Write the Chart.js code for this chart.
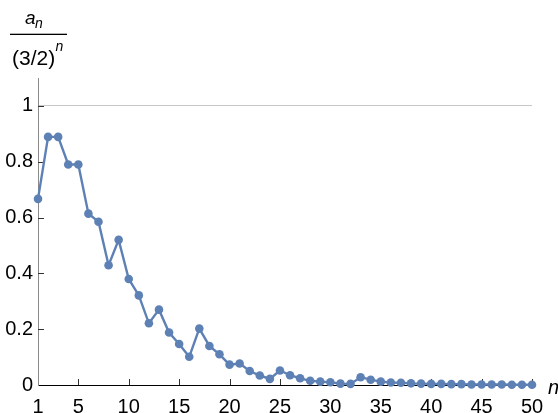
<!DOCTYPE html>
<html>
<head>
<meta charset="utf-8">
<script src="https://cdn.jsdelivr.net/npm/chart.js@4/dist/chart.umd.min.js"></script>
<style>
  html, body { margin: 0; padding: 0; background: #fff; }
  #wrap { width: 558px; height: 413px; position: relative; }
</style>
</head>
<body>
<div id="wrap"><canvas id="c" width="558" height="413"></canvas></div>
<script>
// n values and the ratio a_n / (3/2)^n
var nValues = [1,2,3,4,5,6,7,8,9,10,11,12,13,14,15,16,17,18,19,20,
               21,22,23,24,25,26,27,28,29,30,31,32,33,34,35,36,37,38,39,40,
               41,42,43,44,45,46,47,48,49,50];
var ratio = [0.667,0.889,0.889,0.790,0.790,0.614,0.585,0.429,0.520,0.380,
             0.321,0.221,0.270,0.188,0.147,0.101,0.202,0.140,0.110,0.073,
             0.077,0.050,0.034,0.022,0.052,0.035,0.024,0.015,0.012,0.010,
             0.005,0.004,0.028,0.019,0.012,0.009,0.008,0.006,0.005,0.004,
             0.004,0.003,0.003,0.002,0.002,0.002,0.002,0.001,0.001,0.001];
var xTicks = [1,5,10,15,20,25,30,35,40,45,50];
var yTicks = [0,0.2,0.4,0.6,0.8,1];

var FONT = '"Liberation Sans", Arial, sans-serif';
var blue = '#5E81B5';

var pts = [];
for (var i = 0; i < nValues.length; i++) pts.push({x: nValues[i], y: ratio[i]});

// little inward tick marks, like the original frame
var innerTicks = {
    id: 'innerTicks',
    beforeDatasetsDraw: function(chart){
        var ctx = chart.ctx, xs = chart.scales.x, ys = chart.scales.y;
        var b = chart.chartArea;
        ctx.save();
        ctx.strokeStyle = '#333';
        ctx.lineWidth = 1;
        ctx.beginPath();
        xTicks.forEach(function(v){
            if (v == 1) return;
            var px = Math.round(xs.getPixelForValue(v)) + 0.5;
            ctx.moveTo(px, b.bottom); ctx.lineTo(px, b.bottom - 6);
        });
        yTicks.forEach(function(v){
            if (v == 0) return;
            var py = Math.round(ys.getPixelForValue(v)) + 0.5;
            ctx.moveTo(b.left, py); ctx.lineTo(b.left + 6, py);
        });
        ctx.stroke();
        ctx.restore();
    },
    afterDraw: function(chart){
        var ctx = chart.ctx;
        ctx.save();
        ctx.fillStyle = '#000';
        ctx.textBaseline = 'alphabetic';
        ctx.textAlign = 'left';
        // axis label  a_n / (3/2)^n
        ctx.font = 'italic 19px ' + FONT;
        ctx.fillText('a', 25, 24.3);
        ctx.font = 'italic 14px ' + FONT;
        ctx.fillText('n', 35, 28);
        ctx.fillRect(10, 33.7, 57, 1.3);
        ctx.font = '21px ' + FONT;
        ctx.fillText('(3/2)', 12, 64.5);
        ctx.font = 'italic 14px ' + FONT;
        ctx.fillText('n', 55.5, 50.7);
        // n on the horizontal axis
        ctx.font = 'italic 20px ' + FONT;
        ctx.fillText('n', 548, 394);
        ctx.restore();
    }
};

new Chart(document.getElementById('c'), {
    type: 'line',
    data: {
        datasets: [{
            data: pts,
            borderColor: blue,
            backgroundColor: blue,
            borderWidth: 2.4,
            pointRadius: 4.3,
            pointHoverRadius: 4.3,
            pointBorderWidth: 0,
            tension: 0,
            clip: false
        }]
    },
    options: {
        responsive: false,
        animation: false,
        events: [],
        layout: { padding: { left: 0, top: 78, right: 26, bottom: 0 } },
        plugins: { legend: { display: false }, tooltip: { enabled: false } },
        scales: {
            x: {
                type: 'linear',
                min: 1, max: 50,
                afterBuildTicks: function(s){ s.ticks = xTicks.map(function(v){ return {value: v}; }); },
                afterFit: function(s){ s.height = 28; },
                grid: { display: false, drawTicks: false },
                border: { display: true, color: '#000', width: 1 },
                ticks: { autoSkip: false, maxRotation: 0, padding: 10, color: '#000',
                         font: { family: FONT, size: 20 } }
            },
            y: {
                min: 0, max: 1.1,
                afterBuildTicks: function(s){ s.ticks = yTicks.map(function(v){ return {value: v}; }); },
                afterFit: function(s){ s.width = 38; },
                grid: {
                    drawTicks: false,
                    color: function(c){ return c.tick && c.tick.value == 1 ? '#c8c8c8' : 'rgba(0,0,0,0)'; }
                },
                border: { display: true, color: '#8a8a8a', width: 1 },
                ticks: { padding: 5, color: '#000', font: { family: FONT, size: 20 },
                         callback: function(v){ return v == 0 ? '0' : (v == 1 ? '1' : v.toFixed(1)); } }
            }
        }
    },
    plugins: [innerTicks]
});
</script>
</body>
</html>
